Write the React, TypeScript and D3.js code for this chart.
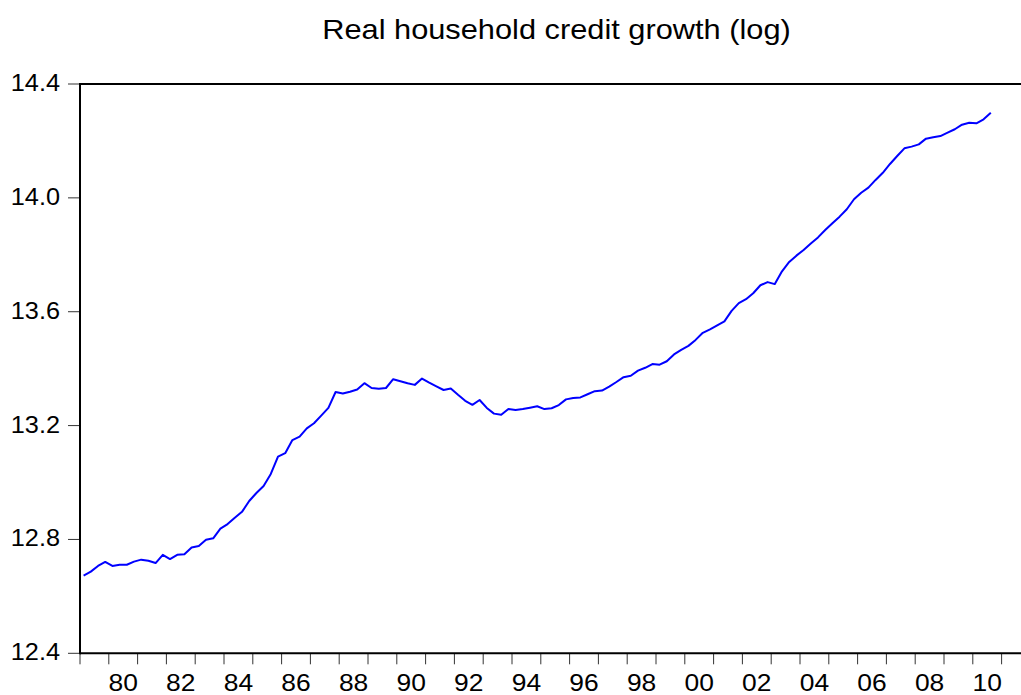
import React from "react";
import * as d3 from "d3";

const chartTitle = "Real household credit growth (log)";
// quarterly observations, first one is 1979Q1
const firstYear = 1979;
const credit = [
  12.673, 12.687, 12.707, 12.721, 12.707, 12.711, 12.711, 12.722,
  12.729, 12.725, 12.717, 12.746, 12.731, 12.746, 12.748, 12.772,
  12.777, 12.799, 12.804, 12.838, 12.854, 12.876, 12.897, 12.935,
  12.963, 12.988, 13.03, 13.091, 13.103, 13.149, 13.161, 13.19,
  13.208, 13.235, 13.262, 13.318, 13.313, 13.319, 13.327, 13.349,
  13.332, 13.329, 13.332, 13.363, 13.356, 13.349, 13.343, 13.365,
  13.351, 13.338, 13.325, 13.33, 13.308, 13.287, 13.273, 13.29,
  13.262, 13.242, 13.238, 13.258, 13.255, 13.258, 13.263, 13.268,
  13.258, 13.261, 13.272, 13.292, 13.297, 13.299, 13.31, 13.321,
  13.323, 13.337, 13.353, 13.37, 13.375, 13.393, 13.403, 13.416,
  13.414, 13.426, 13.45, 13.466, 13.48, 13.501, 13.526, 13.538,
  13.552, 13.566, 13.603, 13.63, 13.644, 13.665, 13.693, 13.704,
  13.697, 13.742, 13.775, 13.797, 13.817, 13.84, 13.861, 13.887,
  13.911, 13.934, 13.96, 13.995, 14.018, 14.036, 14.063, 14.088,
  14.119, 14.147, 14.174, 14.18, 14.188, 14.208, 14.213, 14.217,
  14.229, 14.241, 14.257, 14.264, 14.262, 14.276, 14.299,
];
const yTicks = [12.4, 12.8, 13.2, 13.6, 14.0, 14.4];
const labelYears = [1980, 1982, 1984, 1986, 1988, 1990, 1992, 1994, 1996, 1998, 2000, 2002, 2004, 2006, 2008, 2010];

const W = 1021;
const H = 695;
const left = 80;
const top = 84;
const bottom = 653.3;
const right = 1021;
const font = "'Liberation Sans', Arial, sans-serif";

function Label({ x, y, size, sx, anchor, children }: any) {
  return (
    <text
      transform={`translate(${x},${y}) scale(${sx},1)`}
      textAnchor={anchor}
      fontSize={size}
      fontFamily={font}
      fill="#000"
    >
      {children}
    </text>
  );
}

export default function App() {
  // 28.8 px per year
  const x = d3.scaleLinear().domain([firstYear, firstYear + (right - left) / 28.8]).range([left, right]);
  const y = d3.scaleLinear().domain([12.4, 14.4]).range([bottom, top]);

  const line = d3
    .line<number>()
    .x((d, i) => x(firstYear + (i + 0.5) / 4))
    .y((d) => y(d));

  const yearTicks = d3.range(firstYear, 2012);

  return (
    <svg width={W} height={H} style={{ position: "absolute", left: 0, top: 0, background: "#fff" }}>
      <rect width={W} height={H} fill="#fff" />
      <Label x={(left + right) / 2 + 6} y={39} size={27} sx={1.14} anchor="middle">
        {chartTitle}
      </Label>

      {yTicks.map((t) => (
        <g key={t}>
          <line x1={left - 12} x2={left} y1={y(t)} y2={y(t)} stroke="#333" strokeWidth={1} />
          <Label x={60} y={y(t) + 7} size={23} sx={1.1} anchor="end">
            {t.toFixed(1)}
          </Label>
        </g>
      ))}

      {yearTicks.map((yr) => (
        <line key={yr} x1={x(yr)} x2={x(yr)} y1={bottom} y2={bottom + 11} stroke="#333" strokeWidth={1} />
      ))}
      {labelYears.map((yr) => (
        <Label key={yr} x={x(yr + 0.5)} y={691} size={24} sx={1.1} anchor="middle">
          {String(yr % 100).padStart(2, "0")}
        </Label>
      ))}

      <path d={line(credit) ?? ""} fill="none" stroke="#0000ff" strokeWidth={2} strokeLinejoin="round" />

      <line x1={left} x2={right} y1={top} y2={top} stroke="#000" strokeWidth={2} />
      <line x1={left} x2={right} y1={bottom} y2={bottom} stroke="#000" strokeWidth={2} />
      <line x1={left} x2={left} y1={top - 1} y2={bottom + 1} stroke="#000" strokeWidth={2} />
    </svg>
  );
}
